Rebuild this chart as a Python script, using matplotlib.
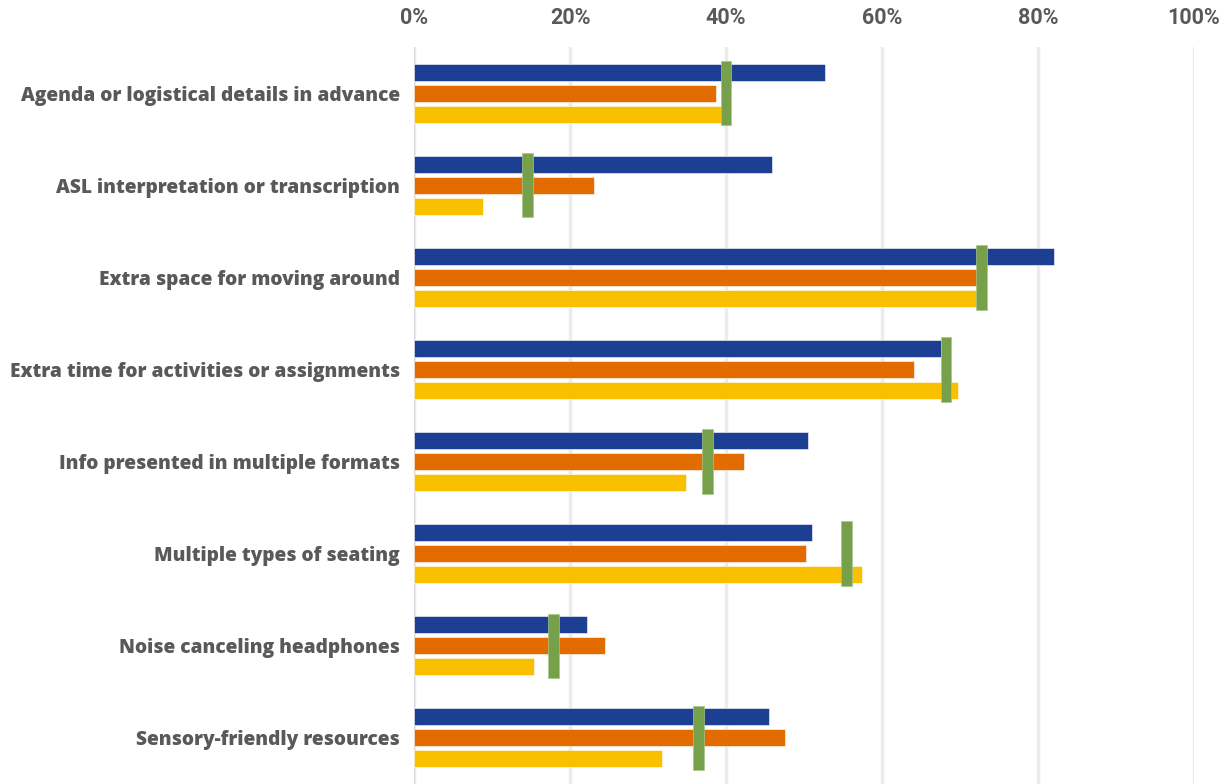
import matplotlib.pyplot as plt
import numpy as np

# categories, top to bottom
categorias = [
    "Agenda or logistical details in advance",
    "ASL interpretation or transcription",
    "Extra space for moving around",
    "Extra time for activities or assignments",
    "Info presented in multiple formats",
    "Multiple types of seating",
    "Noise canceling headphones",
    "Sensory-friendly resources",
]

# percentages for each group
serie_azul = [52.7, 45.9, 82.1, 67.6, 50.5, 51.0, 22.2, 45.5]
serie_naranja = [38.7, 23.1, 72.2, 64.1, 42.3, 50.3, 24.5, 47.6]
serie_amarilla = [39.5, 8.9, 72.2, 69.7, 34.9, 57.4, 15.4, 31.8]
# overall value shown as a green marker
marcador = [40.0, 14.6, 72.7, 68.2, 37.6, 55.4, 17.9, 36.5]

azul = "#1c3f94"
naranja = "#e36c00"
amarillo = "#f9c000"
verde = "#77a04a"
gris = "#595959"

plt.rcParams['font.family'] = ['Open Sans', 'DejaVu Sans']

fig = plt.figure(figsize=(12.31, 7.84), dpi=100)
ax = fig.add_axes([0.3363, 0.0, 0.6337, 0.940])

y = np.arange(len(categorias))
alto = 0.185
sep = 0.228

ax.barh(y - sep, serie_azul, height=alto, color=azul, edgecolor="white", linewidth=0.4, zorder=3)
ax.barh(y, serie_naranja, height=alto, color=naranja, edgecolor="white", linewidth=0.4, zorder=3)
ax.barh(y + sep, serie_amarilla, height=alto, color=amarillo, edgecolor="white", linewidth=0.4, zorder=3)

ancho_marca = 1.4
ax.barh(y, ancho_marca, left=np.array(marcador) - ancho_marca / 2, height=0.70,
        color=verde, edgecolor="#a9c48a", linewidth=0.5, zorder=4)

ax.set_xlim(0, 100)
ax.set_ylim(len(categorias) - 0.5, -0.5)
ax.set_xticks(np.arange(0, 101, 20))
ax.set_xticklabels([f"{v}%" for v in range(0, 101, 20)])
ax.xaxis.tick_top()
ax.tick_params(axis="x", length=0, pad=13, labelsize=15.5, labelcolor=gris)
for t in ax.get_xticklabels():
    t.set_fontweight("bold")
    t.set_family(['Liberation Sans Narrow', 'Roboto', 'DejaVu Sans'])

ax.set_yticks(y)
ax.set_yticklabels(categorias)
ax.tick_params(axis="y", length=0, pad=10, labelsize=13.8, labelcolor=gris)
for t in ax.get_yticklabels():
    t.set_fontweight(800)

ax.grid(axis="x", color="#ececec", linewidth=2.5, zorder=0)
ax.axvline(0, color="#d4d4d4", linewidth=1.2, zorder=2)
for s in ax.spines.values():
    s.set_visible(False)

fig.savefig("out.png", dpi=100)
